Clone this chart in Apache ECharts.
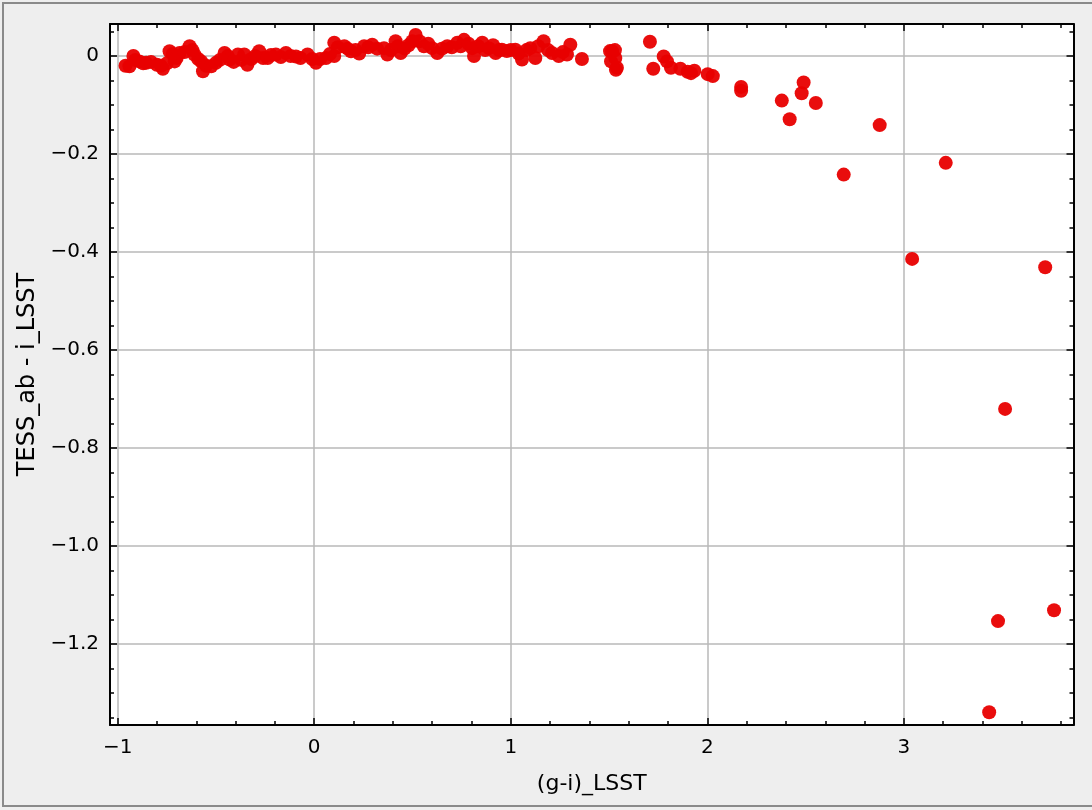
<!DOCTYPE html>
<html>
<head>
<meta charset="utf-8">
<script src="https://cdn.jsdelivr.net/npm/echarts@6/dist/echarts.min.js"></script>
<style>html,body{margin:0;padding:0;background:#eeeeee;}#c{width:1092px;height:810px;}</style>
</head>
<body>
<div id="c"></div>
<script>
const X_NAME = '(g-i)_LSST';
const Y_NAME = 'TESS_ab - i_LSST';
const X_MIN = -1.039, X_MAX = 3.863;
const Y_MIN = -1.365, Y_MAX = 0.0653;
const xMajorTicks = [-1, 0, 1, 2, 3];
const xMinorTicks = [-0.8,-0.6,-0.4,-0.2,0.2,0.4,0.6,0.8,1.2,1.4,1.6,1.8,2.2,2.4,2.6,2.8,3.2,3.4,3.6,3.8];
const yMajorTicks = [0, -0.2, -0.4, -0.6, -0.8, -1.0, -1.2];
const yMinorTicks = [0.05,-0.05,-0.1,-0.15,-0.25,-0.3,-0.35,-0.45,-0.5,-0.55,-0.65,-0.7,-0.75,-0.85,-0.9,-0.95,-1.05,-1.1,-1.15,-1.25,-1.3,-1.35];

const gi = [-0.96,-0.94,-0.92,-0.91,-0.89,-0.87,-0.855,-0.83,-0.80,-0.78,-0.77,-0.75,-0.736,-0.72,-0.71,-0.70,-0.685,-0.66,-0.634,-0.62,-0.61,-0.59,-0.575,-0.566,-0.55,-0.524,-0.50,-0.48,-0.456,-0.44,-0.43,-0.41,-0.388,-0.37,-0.356,-0.34,-0.32,-0.30,-0.28,-0.26,-0.237,-0.22,-0.195,-0.17,-0.144,-0.12,-0.093,-0.07,-0.034,-0.01,0.009,0.03,0.06,0.08,0.102,0.102,0.12,0.153,0.17,0.187,0.21,0.229,0.254,0.275,0.295,0.32,0.355,0.372,0.39,0.414,0.425,0.44,0.46,0.48,0.499,0.516,0.535,0.558,0.58,0.60,0.626,0.65,0.677,0.70,0.728,0.745,0.762,0.785,0.804,0.813,0.835,0.855,0.87,0.889,0.91,0.923,0.94,0.955,0.98,1.0,1.023,1.04,1.057,1.08,1.099,1.125,1.14,1.167,1.19,1.21,1.244,1.265,1.286,1.303,1.362,1.505,1.515,1.51,1.532,1.54,1.535,1.53,1.708,1.725,1.778,1.795,1.815,1.863,1.90,1.917,1.934,2.002,2.028,2.172,2.172,2.379,2.419,2.48,2.49,2.552,2.694,2.877,3.042,3.213,3.434,3.479,3.515,3.719,3.764];
const tessMinusI = [-0.02,-0.021,0.0,-0.008,-0.011,-0.015,-0.014,-0.012,-0.018,-0.02,-0.026,-0.015,0.0096,0.004,-0.011,-0.004,0.006,0.008,0.02,0.012,0.003,-0.006,-0.011,-0.031,-0.02,-0.021,-0.014,-0.008,0.006,0.0,-0.007,-0.012,0.003,-0.008,0.003,-0.018,-0.006,0.0,0.0096,-0.004,-0.004,0.002,0.003,-0.002,0.006,0.0,-0.001,-0.004,0.003,-0.006,-0.014,-0.006,-0.004,0.004,0.027,0.0,0.018,0.02,0.015,0.0096,0.012,0.005,0.02,0.018,0.023,0.015,0.016,0.003,0.012,0.03,0.02,0.006,0.015,0.022,0.03,0.043,0.03,0.02,0.025,0.016,0.006,0.015,0.02,0.018,0.027,0.02,0.033,0.025,0.016,0.0,0.02,0.027,0.012,0.016,0.022,0.006,0.012,0.013,0.01,0.012,0.013,0.005,-0.007,0.012,0.016,-0.004,0.02,0.03,0.012,0.006,0.0,0.008,0.003,0.023,-0.006,0.01,0.0096,-0.011,-0.004,-0.024,-0.028,0.012,0.029,-0.026,-0.001,-0.011,-0.024,-0.026,-0.032,-0.035,-0.030,-0.037,-0.041,-0.063,-0.071,-0.091,-0.129,-0.076,-0.054,-0.096,-0.242,-0.141,-0.414,-0.218,-1.339,-1.153,-0.720,-0.431,-1.131];

const points = gi.map((x, i) => [x, tessMinusI[i]]);
const FONT = 'DejaVu Sans';
const minus = s => s.replace('-', '\u2212');
const gridPos = {left: 110, top: 24, right: 18.5, bottom: 85};

function xAx(grid, pos, ticks, len, labels) {
  return {
    type: 'value', gridIndex: grid, position: pos, min: X_MIN, max: X_MAX,
    axisLine: {show: grid === 0, onZero: false, lineStyle: {color: '#000', width: 2}},
    axisTick: {show: true, inside: true, length: len, customValues: ticks, lineStyle: {color: '#000', width: 1.5}},
    axisLabel: labels ? {show: true, customValues: ticks, color: '#000', fontFamily: FONT, fontSize: 20, margin: 13,
      formatter: v => minus(String(Math.round(v)))} : {show: false},
    splitLine: {show: labels, lineStyle: {color: '#b8b8b8', width: 1.5}},
    name: labels ? X_NAME : '', nameLocation: 'middle', nameGap: 48,
    nameTextStyle: {color: '#000', fontFamily: FONT, fontSize: 22}
  };
}
function yAx(grid, pos, ticks, len, labels) {
  return {
    type: 'value', gridIndex: grid, position: pos, min: Y_MIN, max: Y_MAX,
    axisLine: {show: grid === 0, onZero: false, lineStyle: {color: '#000', width: 2}},
    axisTick: {show: true, inside: true, length: len, customValues: ticks, lineStyle: {color: '#000', width: 1.5}},
    axisLabel: labels ? {show: true, customValues: ticks, color: '#000', fontFamily: FONT, fontSize: 20, margin: 11,
      formatter: v => v === 0 ? '0' : minus(v.toFixed(1))} : {show: false},
    splitLine: {show: labels, lineStyle: {color: '#b8b8b8', width: 1.5}},
    name: labels ? Y_NAME : '', nameLocation: 'middle', nameGap: 70, nameRotate: 90,
    nameTextStyle: {color: '#000', fontFamily: FONT, fontSize: 24}
  };
}

const chart = echarts.init(document.getElementById('c'), null, {renderer: 'canvas'});
chart.setOption({
  backgroundColor: '#eeeeee',
  animation: false,
  grid: [
    Object.assign({show: true, backgroundColor: '#ffffff', borderWidth: 0}, gridPos),
    Object.assign({show: false}, gridPos)
  ],
  xAxis: [
    xAx(0, 'bottom', xMajorTicks, 7, true),
    xAx(0, 'top', xMajorTicks, 7, false),
    xAx(1, 'bottom', xMinorTicks, 4, false),
    xAx(1, 'top', xMinorTicks, 4, false)
  ],
  yAxis: [
    yAx(0, 'left', yMajorTicks, 7, true),
    yAx(0, 'right', yMajorTicks, 7, false),
    yAx(1, 'left', yMinorTicks, 4, false),
    yAx(1, 'right', yMinorTicks, 4, false)
  ],
  graphic: [{
    type: 'rect', shape: {x: 3, y: 3, width: 1100, height: 803},
    style: {fill: 'none', stroke: '#8a8a8a', lineWidth: 2}, silent: true, z: 100
  }],
  series: [{
    type: 'scatter', xAxisIndex: 0, yAxisIndex: 0, data: points,
    symbol: 'circle', symbolSize: 14,
    itemStyle: {color: '#e80000', opacity: 0.95},
    z: 5
  }]
});
</script>
</body>
</html>
